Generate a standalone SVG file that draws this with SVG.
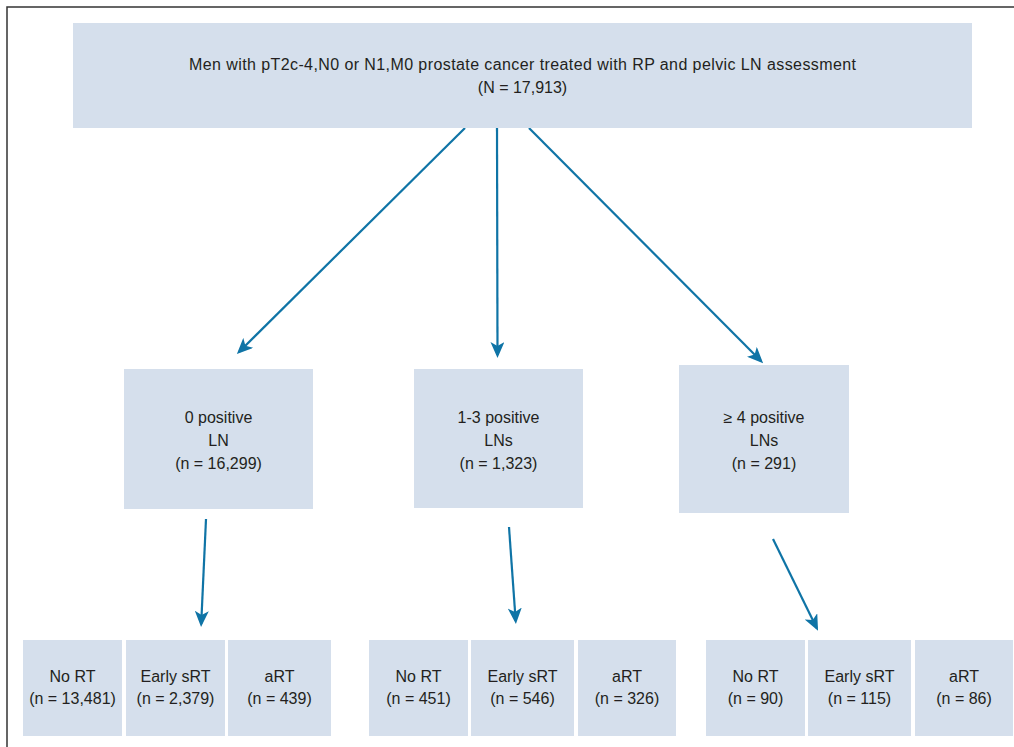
<svg xmlns="http://www.w3.org/2000/svg" width="1014" height="747" viewBox="0 0 1014 747">
<style>
.box{fill:#d5dfec;stroke:none}
.t{font-family:"Liberation Sans",Arial,sans-serif;font-size:16px;fill:#231f20;text-anchor:middle}
.arr{stroke:#0f74a6;stroke-width:2.2;fill:none;marker-end:url(#ah)}
.frame{stroke:#333;stroke-width:1.5;fill:none}
</style>
<defs>
<marker id="ah" viewBox="0 0 16 14" refX="13" refY="7" markerWidth="16" markerHeight="14" markerUnits="userSpaceOnUse" orient="auto">
<path d="M0,0 L16,7 L0,14 L4,7 Z" fill="#0f74a6"/>
</marker>
</defs>
<rect width="1014" height="747" fill="#fff"/>
<path class="frame" d="M7,747 V7 H1014"/>

<g id="connectors">
<line class="arr" x1="465" y1="128" x2="239" y2="352"/>
<line class="arr" x1="497" y1="128" x2="497.5" y2="355"/>
<line class="arr" x1="529" y1="128" x2="761" y2="361"/>
<line class="arr" x1="206" y1="519" x2="201.2" y2="624"/>
<line class="arr" x1="509" y1="527" x2="515.7" y2="621"/>
<line class="arr" x1="773" y1="539" x2="816.7" y2="628"/>
</g>

<g id="root">
<rect class="box" x="73" y="23" width="899" height="105"/>
<text class="t" x="522.5" y="70" textLength="667" lengthAdjust="spacing">Men with pT2c-4,N0 or N1,M0 prostate cancer treated with RP and pelvic LN assessment</text>
<text class="t" x="522.5" y="93">(N = 17,913)</text>
</g>

<g id="ln0">
<rect class="box" x="124" y="369" width="189" height="140"/>
<text class="t" x="218.5" y="423">0 positive</text>
<text class="t" x="218.5" y="446">LN</text>
<text class="t" x="218.5" y="469">(n = 16,299)</text>
</g>
<g id="ln13">
<rect class="box" x="414" y="369" width="169" height="139"/>
<text class="t" x="498.5" y="423">1-3 positive</text>
<text class="t" x="498.5" y="446">LNs</text>
<text class="t" x="498.5" y="469">(n = 1,323)</text>
</g>
<g id="ln4">
<rect class="box" x="679" y="365" width="170" height="148"/>
<text class="t" x="764" y="423">≥ 4 positive</text>
<text class="t" x="764" y="446">LNs</text>
<text class="t" x="764" y="469">(n = 291)</text>
</g>

<g id="g1-nort">
<rect class="box" x="23" y="640" width="99" height="96"/>
<text class="t" x="72.5" y="682">No RT</text>
<text class="t" x="72.5" y="704">(n = 13,481)</text>
</g>
<g id="g1-esrt">
<rect class="box" x="126" y="640" width="99" height="96"/>
<text class="t" x="175.5" y="682">Early sRT</text>
<text class="t" x="175.5" y="704">(n = 2,379)</text>
</g>
<g id="g1-art">
<rect class="box" x="228" y="640" width="103" height="96"/>
<text class="t" x="279.5" y="682">aRT</text>
<text class="t" x="279.5" y="704">(n = 439)</text>
</g>

<g id="g2-nort">
<rect class="box" x="369" y="640" width="99" height="96"/>
<text class="t" x="418.5" y="682">No RT</text>
<text class="t" x="418.5" y="704">(n = 451)</text>
</g>
<g id="g2-esrt">
<rect class="box" x="471" y="640" width="103" height="96"/>
<text class="t" x="522.5" y="682">Early sRT</text>
<text class="t" x="522.5" y="704">(n = 546)</text>
</g>
<g id="g2-art">
<rect class="box" x="578" y="640" width="98" height="96"/>
<text class="t" x="627" y="682">aRT</text>
<text class="t" x="627" y="704">(n = 326)</text>
</g>

<g id="g3-nort">
<rect class="box" x="706" y="640" width="99" height="96"/>
<text class="t" x="755.5" y="682">No RT</text>
<text class="t" x="755.5" y="704">(n = 90)</text>
</g>
<g id="g3-esrt">
<rect class="box" x="808" y="640" width="103" height="96"/>
<text class="t" x="859.5" y="682">Early sRT</text>
<text class="t" x="859.5" y="704">(n = 115)</text>
</g>
<g id="g3-art">
<rect class="box" x="915" y="640" width="98" height="96"/>
<text class="t" x="964" y="682">aRT</text>
<text class="t" x="964" y="704">(n = 86)</text>
</g>
</svg>
